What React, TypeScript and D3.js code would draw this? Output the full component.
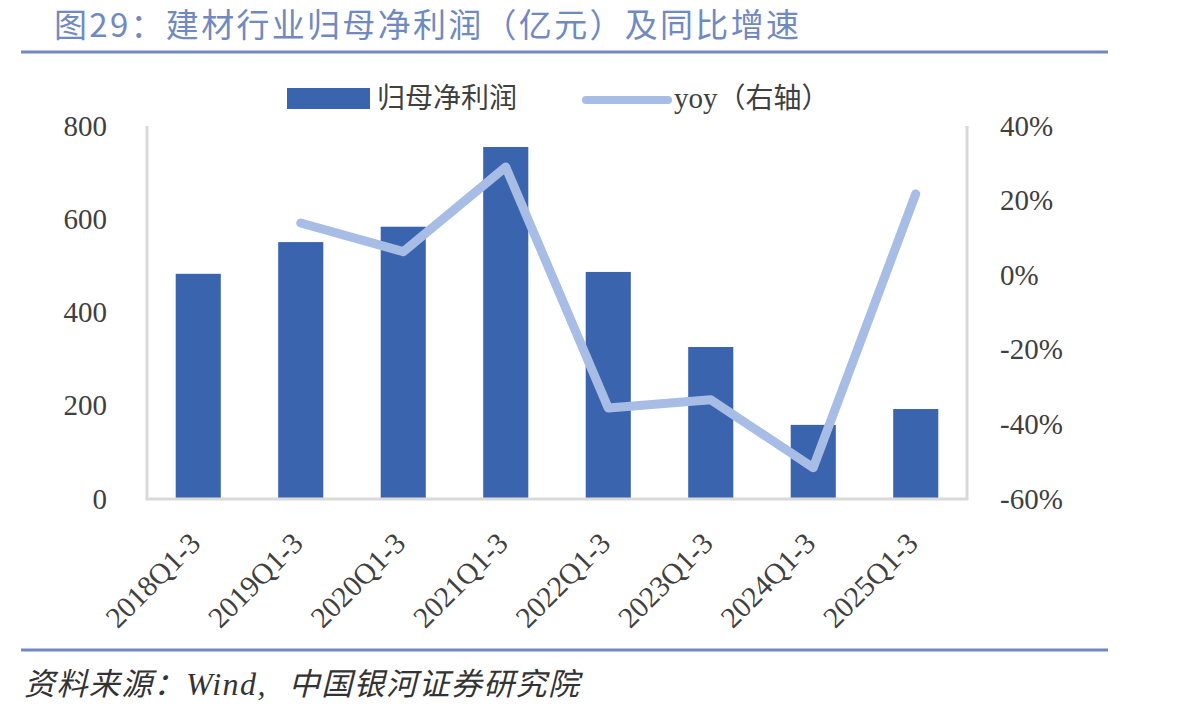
import * as d3 from "d3";

const PERIODS = ["2018Q1-3", "2019Q1-3", "2020Q1-3", "2021Q1-3", "2022Q1-3", "2023Q1-3", "2024Q1-3", "2025Q1-3"];
const PROFIT = [483, 551, 584, 755, 487, 326, 159, 193];
const YOY: (number | null)[] = [null, 14.0, 6.3, 29.0, -35.6, -33.4, -51.6, 21.8];
const LEFT_TICKS = [0, 200, 400, 600, 800];
const RIGHT_TICKS = [-60, -40, -20, 0, 20, 40];

const W = 1177;
const H = 716;
const plot = { left: 147, right: 967, top: 126, bottom: 499 };

const BAR = "#3a64ae";
const LINE = "#a7bde6";
const AXIS = "#d9d9d9";
const ACCENT = "#7189c1";
const TEXT = "#404040";
const SERIF = "'Liberation Serif', 'Times New Roman', serif";
const CJK = "'Noto Sans CJK SC', sans-serif";

export default function App() {
  const x = d3.scaleBand<string>().domain(PERIODS).range([plot.left, plot.right]).paddingInner(0.56).paddingOuter(0.28);
  const yL = d3.scaleLinear().domain([0, 800]).range([plot.bottom, plot.top]);
  const yR = d3.scaleLinear().domain([-60, 40]).range([plot.bottom, plot.top]);
  const cx = (p: string) => (x(p) as number) + x.bandwidth() / 2;

  const pts = PERIODS.map((p, i) => ({ p, v: YOY[i] }));
  const line = d3
    .line<{ p: string; v: number | null }>()
    .defined((d) => d.v !== null)
    .x((d) => cx(d.p))
    .y((d) => yR(d.v as number));

  return (
    <svg width={W} height={H} style={{ position: "absolute", left: 0, top: 0, background: "#fff" }}>
      {/* header */}
      <text x={54} y={37} fontFamily={CJK} fontSize={33} letterSpacing={2.3} fill={ACCENT}>
        图29：建材行业归母净利润（亿元）及同比增速
      </text>
      <line x1={21} x2={1108} y1={52} y2={52} stroke={ACCENT} strokeWidth={3} />

      {/* legend */}
      <rect x={287} y={88} width={83} height={21} fill={BAR} />
      <text x={377} y={108} fontFamily={CJK} fontSize={28} fill={TEXT}>归母净利润</text>
      <line x1={586} x2={668} y1={100} y2={100} stroke={LINE} strokeWidth={8} strokeLinecap="round" />
      <text x={674} y={108} fontFamily={SERIF} fontSize={29} fill={TEXT}>
        yoy<tspan fontFamily={CJK} fontSize={28}>（右轴）</tspan>
      </text>

      {/* bars */}
      {PERIODS.map((p, i) => (
        <rect key={p} x={x(p)} y={yL(PROFIT[i])} width={x.bandwidth()} height={yL(0) - yL(PROFIT[i])} fill={BAR} />
      ))}

      {/* frame */}
      <line x1={plot.left} x2={plot.left} y1={plot.top} y2={plot.bottom} stroke={AXIS} strokeWidth={3} />
      <line x1={plot.right} x2={plot.right} y1={plot.top} y2={plot.bottom} stroke={AXIS} strokeWidth={3} />
      <line x1={plot.left - 1.5} x2={plot.right + 1.5} y1={plot.bottom} y2={plot.bottom} stroke={AXIS} strokeWidth={3} />

      {/* yoy line */}
      <path d={line(pts) || ""} fill="none" stroke={LINE} strokeWidth={9} strokeLinecap="round" strokeLinejoin="round" />

      {/* left axis */}
      {LEFT_TICKS.map((t) => (
        <text key={t} x={107} y={yL(t)} dy="0.33em" textAnchor="end" fontFamily={SERIF} fontSize={29} fill={TEXT}>
          {t}
        </text>
      ))}
      {/* right axis */}
      {RIGHT_TICKS.map((t) => (
        <text key={t} x={1000} y={yR(t)} dy="0.33em" fontFamily={SERIF} fontSize={29} fill={TEXT}>
          {t}%
        </text>
      ))}
      {/* category labels */}
      {PERIODS.map((p) => (
        <text
          key={p}
          transform={`translate(${cx(p) + 4},${545}) rotate(-45)`}
          textAnchor="end"
          fontFamily={SERIF}
          fontSize={29.5}
          fill={TEXT}
        >
          {p}
        </text>
      ))}

      {/* footer */}
      <line x1={21} x2={1108} y1={650} y2={650} stroke={ACCENT} strokeWidth={3} />
      <text x={24} y={695} fontFamily={CJK} fontSize={31} fontStyle="italic" letterSpacing={1.4} fill="#333">
        资料来源：<tspan fontFamily={SERIF} fontSize={32}>Wind,</tspan><tspan dx={22}>中国银河证券研究院</tspan>
      </text>
    </svg>
  );
}
